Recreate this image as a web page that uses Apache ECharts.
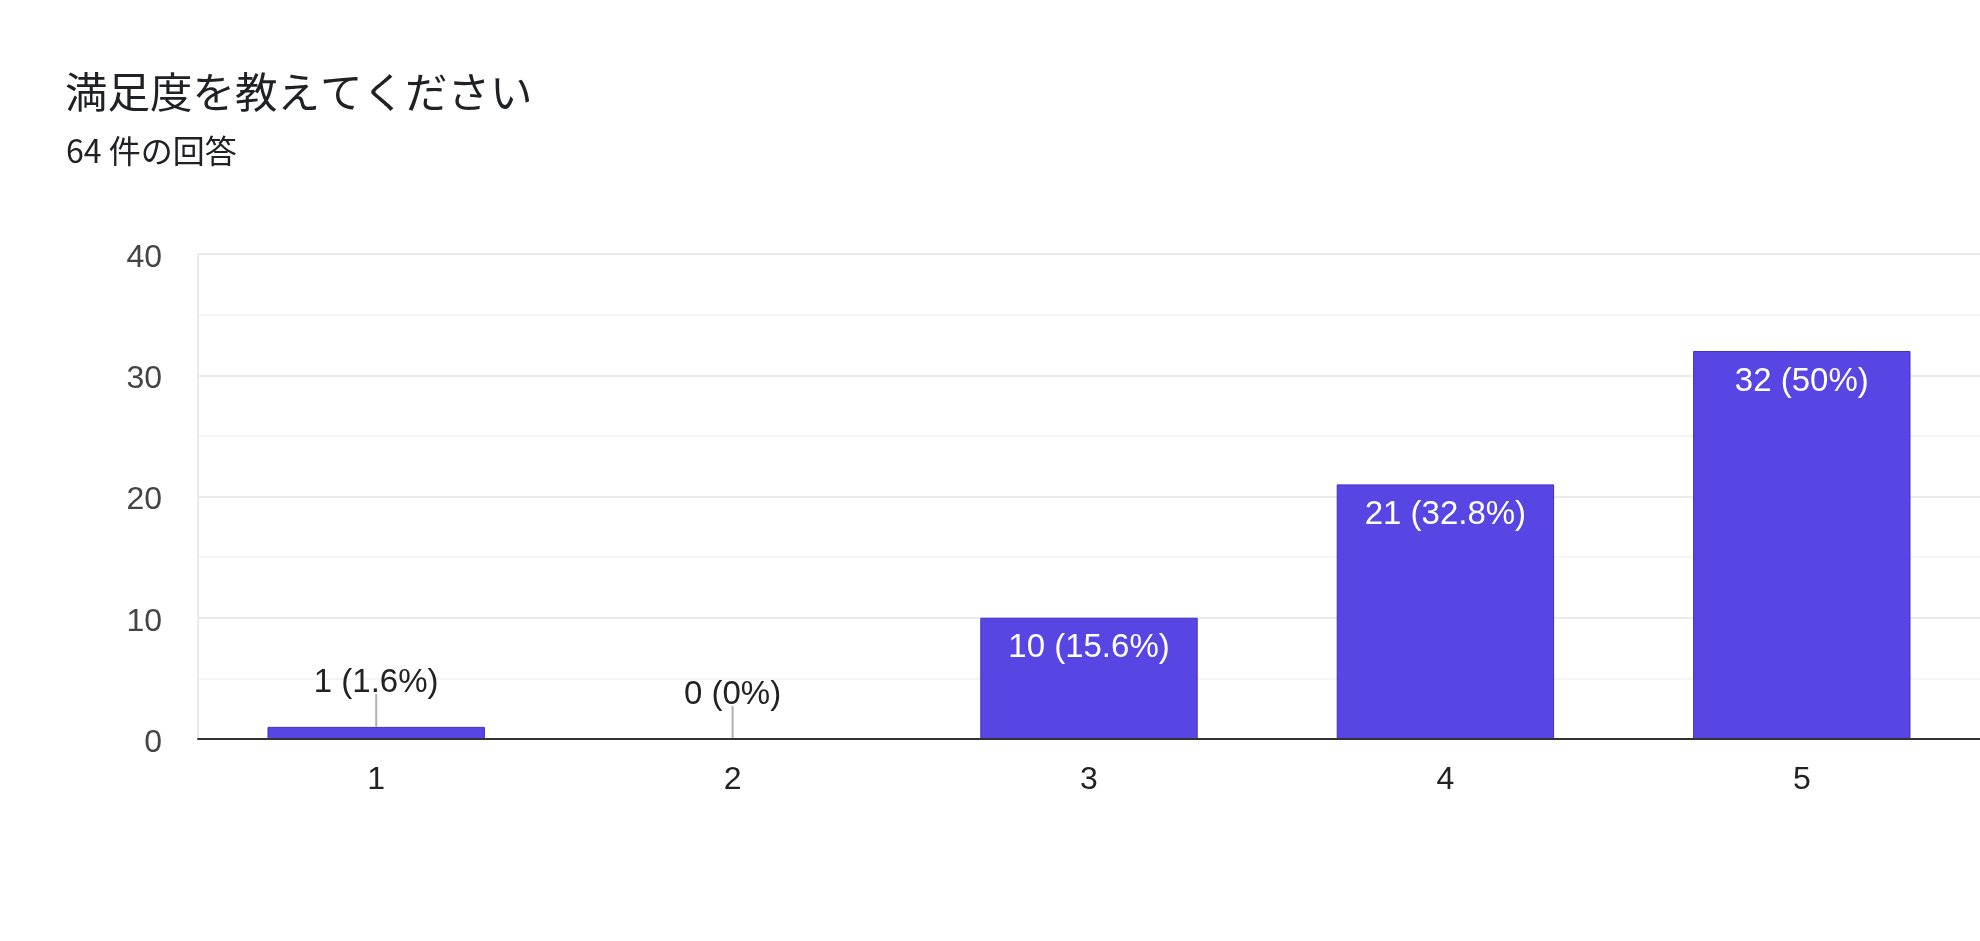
<!DOCTYPE html>
<html>
<head>
<meta charset="utf-8">
<script src="https://cdn.jsdelivr.net/npm/echarts@6/dist/echarts.min.js"></script>
<style>
html,body{margin:0;padding:0;background:#fff;}
#chart{width:1980px;height:941px;}
</style>
</head>
<body>
<div id="chart"></div>
<script>
const titleText = '満足度を教えてください';
const responses = 64;
const subtitleText = responses + ' 件の回答';
const categories = ['1', '2', '3', '4', '5'];
const counts = [1, 0, 10, 21, 32];
const yTicks = [0, 10, 20, 30, 40];
const insideThreshold = 5;

const pct = v => Math.round(v / responses * 1000) / 10;
const labelText = v => v + ' (' + pct(v) + '%)';

const chart = echarts.init(document.getElementById('chart'));
const labelFont = "Arial, 'Liberation Sans', sans-serif";

const barData = counts.map(v => {
  const inside = v >= insideThreshold;
  return {
    value: v,
    label: inside
      ? { position: 'insideTop', distance: 14, color: '#ffffff' }
      : { position: 'top', distance: 27, color: '#222222' }
  };
});
const leaderData = counts.map((v, i) => v >= insideThreshold ? null : [i, v]);

chart.setOption({
  animation: false,
  backgroundColor: '#ffffff',
  title: [
    { text: titleText, left: 60, top: 66,
      textStyle: { fontFamily: "'Noto Sans CJK JP', sans-serif", fontSize: 42.5, fontWeight: 'normal', color: '#202124', lineHeight: 42 } },
    { text: subtitleText, left: 61, top: 130,
      textStyle: { fontFamily: "'Noto Sans CJK JP', sans-serif", fontSize: 32, fontWeight: 'normal', color: '#202124', lineHeight: 32 } }
  ],
  grid: { left: 198, right: 0, top: 254, bottom: 202, containLabel: false },
  xAxis: {
    type: 'category',
    data: categories,
    axisTick: { show: false },
    axisLine: { show: true, lineStyle: { color: '#333333', width: 2 } },
    axisLabel: { margin: 25, fontSize: 32, color: '#222222', fontFamily: labelFont },
    splitLine: { show: false },
    z: 5
  },
  yAxis: {
    type: 'value',
    min: yTicks[0],
    max: yTicks[yTicks.length - 1],
    interval: yTicks[1] - yTicks[0],
    axisLine: { show: true, lineStyle: { color: '#ebebeb', width: 2 } },
    axisTick: { show: false },
    axisLabel: { margin: 36, fontSize: 32, color: '#444444', fontFamily: labelFont, lineHeight: 8, verticalAlign: 'top' },
    splitLine: { show: true, lineStyle: { color: '#ebebeb', width: 2 } },
    minorTick: { show: false, splitNumber: 2 },
    minorSplitLine: { show: true, lineStyle: { color: '#f5f5f5', width: 2 } }
  },
  series: [
    {
      type: 'bar',
      data: barData,
      barWidth: '61%',
      itemStyle: { color: '#5746e3', borderColor: '#3f30c8', borderWidth: 1 },
      label: {
        show: true,
        fontSize: 33,
        fontFamily: labelFont,
        formatter: p => labelText(p.value)
      },
      z: 3
    },
    {
      type: 'scatter',
      data: leaderData,
      symbol: 'rect',
      symbolSize: [2, 33],
      symbolOffset: [0, '-50%'],
      itemStyle: { color: '#9e9e9e' },
      silent: true,
      z: 4
    }
  ]
});
</script>
</body>
</html>
